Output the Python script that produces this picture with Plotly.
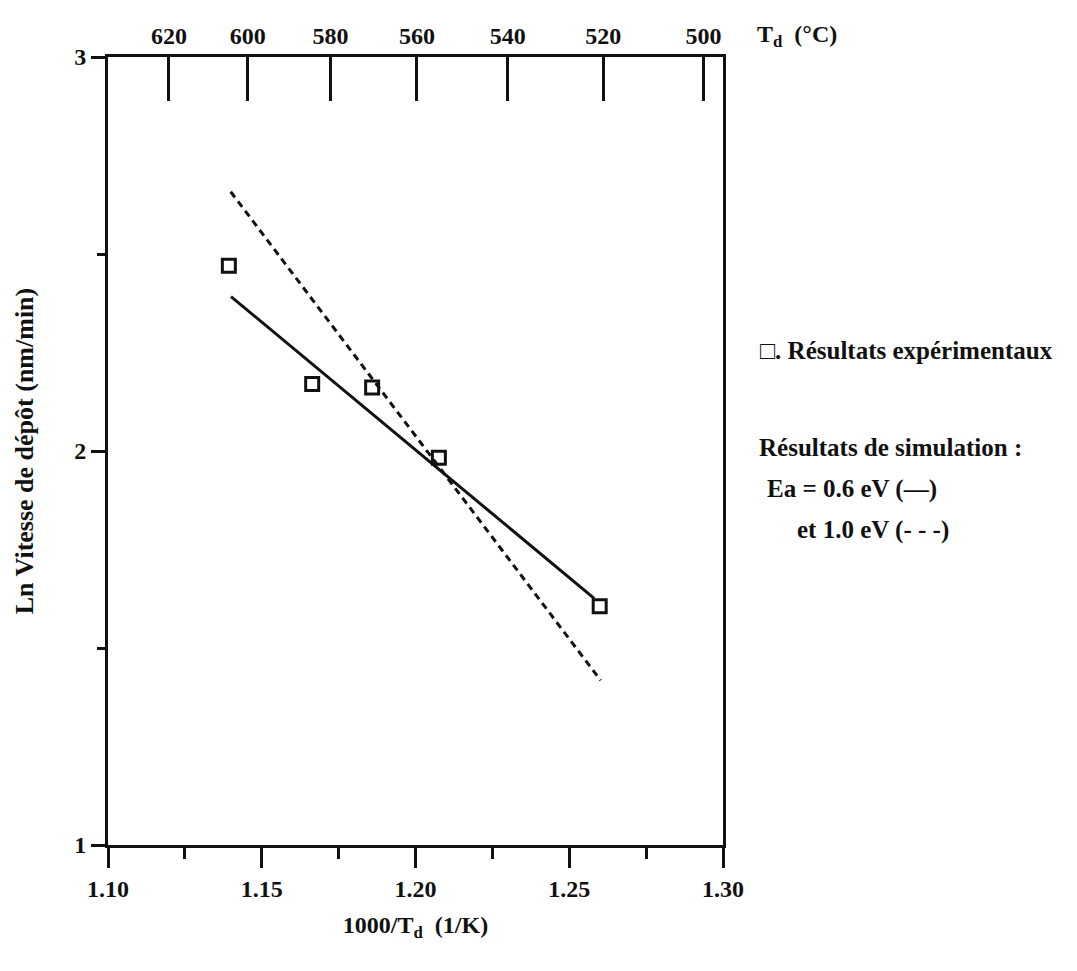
import plotly.graph_objects as go

# Experimental points: 1000/Td (1/K) vs ln(deposition rate)
exp_x = [1.1393, 1.1664, 1.1859, 1.2076, 1.2599]
exp_y = [2.470, 2.170, 2.161, 1.983, 1.606]

# Simulated Arrhenius lines (end points)
sim06_x = [1.1400, 1.2581]
sim06_y = [2.392, 1.626]
sim10_x = [1.1399, 1.2602]
sim10_y = [2.658, 1.418]

# Top axis: deposition temperature in °C
temp_c = [620, 600, 580, 560, 540, 520, 500]
temp_pos = [1000.0 / (t + 273.0) for t in temp_c]

x_ticks = [1.10, 1.15, 1.20, 1.25, 1.30]
x_ticklabels = ["1.10", "1.15", "1.20", "1.25", "1.30"]
y_ticks = [1, 2, 3]
y_ticklabels = ["1", "2", "3"]

FONT = "Liberation Serif"
INK = "#111111"

fig = go.Figure()

fig.add_trace(go.Scatter(
    x=sim06_x, y=sim06_y, mode="lines",
    line=dict(color=INK, width=3), showlegend=False, hoverinfo="skip"))
fig.add_trace(go.Scatter(
    x=sim10_x, y=sim10_y, mode="lines",
    line=dict(color=INK, width=3, dash="7px,5px"), showlegend=False, hoverinfo="skip"))
fig.add_trace(go.Scatter(
    x=exp_x, y=exp_y, mode="markers",
    marker=dict(symbol="square-open", size=13, color=INK, line=dict(width=3, color=INK)),
    showlegend=False))

# invisible trace to activate the top temperature axis
fig.add_trace(go.Scatter(x=[1.10, 1.30], y=[1, 1], xaxis="x2", mode="markers",
                         marker=dict(opacity=0), showlegend=False, hoverinfo="skip"))

tickfont = dict(family=FONT, size=24, color=INK, weight="bold")

fig.update_layout(
    width=1077, height=971,
    margin=dict(l=108, r=354, t=57, b=126),
    paper_bgcolor="white", plot_bgcolor="white",
    font=dict(family=FONT, size=22, color=INK),
    xaxis=dict(
        range=[1.10, 1.30], tickvals=x_ticks, ticktext=x_ticklabels,
        showgrid=False, zeroline=False, showline=True, linecolor=INK, linewidth=3,
        ticks="outside", ticklen=20, tickwidth=3, tickcolor=INK,
        tickfont=tickfont,
        minor=dict(dtick=0.025, tick0=1.10, ticks="outside", ticklen=11, tickwidth=3, tickcolor=INK),
        title=dict(text="<b>1000/T<sub>d</sub>  (1/K)</b>", font=dict(family=FONT, size=24), standoff=16),
    ),
    xaxis2=dict(
        range=[1.10, 1.30], overlaying="x", side="top", anchor="y",
        tickvals=temp_pos, ticktext=[str(t) for t in temp_c],
        showgrid=False, zeroline=False, showline=True, linecolor=INK, linewidth=3,
        ticks="inside", ticklen=44, tickwidth=3, tickcolor=INK,
        tickfont=tickfont,
    ),
    yaxis=dict(
        range=[1, 3], tickvals=y_ticks, ticktext=y_ticklabels,
        showgrid=False, zeroline=False, showline=True, mirror=True, linecolor=INK, linewidth=3,
        ticks="outside", ticklen=14, tickwidth=3, tickcolor=INK,
        tickfont=tickfont,
        minor=dict(dtick=0.5, tick0=1, ticks="outside", ticklen=8, tickwidth=3, tickcolor=INK),
        title=dict(text="<b>Ln Vitesse de dépôt (nm/min)</b>", font=dict(family=FONT, size=26), standoff=34),
    ),
)

# Axis unit label for the top temperature axis
fig.add_annotation(x=1.0, y=1.0, xref="paper", yref="paper", xanchor="left", yanchor="bottom",
                   xshift=32, yshift=4, showarrow=False,
                   text="<b>T<sub>d</sub>  (°C)</b>", font=dict(family=FONT, size=24, color=INK))

# Key on the right-hand side
key_lines = [
    ("<b>□. Résultats expérimentaux</b>", 350, 758),
    ("<b>Résultats de simulation :</b>", 447, 757),
    ("<b>Ea = 0.6 eV (—)</b>", 489, 765),
    ("<b>et 1.0 eV (- - -)</b>", 530, 795),
]
for text, ypx, xpx in key_lines:
    fig.add_annotation(x=(xpx - 108) / 615.0, y=(845 - ypx) / 788.0, xref="paper", yref="paper",
                       xanchor="left", yanchor="middle", showarrow=False, text=text,
                       font=dict(family=FONT, size=25, color=INK))

fig.write_html("out.html")
